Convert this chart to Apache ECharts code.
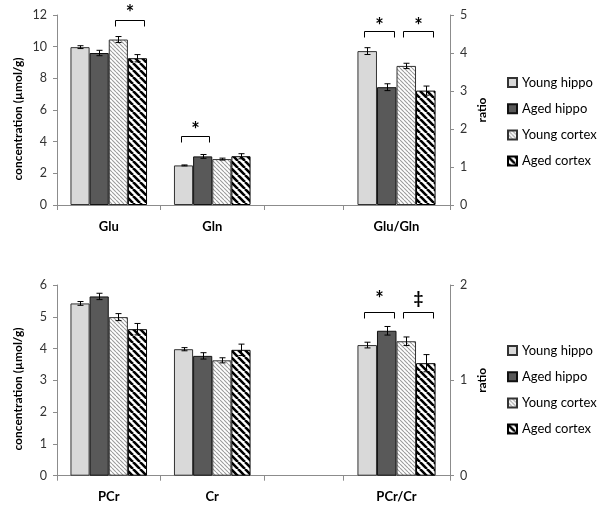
<!DOCTYPE html>
<html><head><meta charset="utf-8">
<script src="https://cdn.jsdelivr.net/npm/echarts@6/dist/echarts.min.js"></script>
<style>html,body{margin:0;padding:0;background:#fff}#c{width:600px;height:511px}</style>
</head><body><div id="c"></div>
<script>
// ---------- data ----------
const seriesNames = ['Young hippo', 'Aged hippo', 'Young cortex', 'Aged cortex'];

// top panel: concentrations (µmol/g)
const topCategories = ['Glu', 'Gln'];
const topYoungHippo = [9.97, 2.50];
const topAgedHippo = [9.60, 3.07];
const topYoungCortex = [10.45, 2.90];
const topAgedCortex = [9.27, 3.08];
const topYoungHippoErr = [0.09, 0.03];
const topAgedHippoErr = [0.17, 0.12];
const topYoungCortexErr = [0.19, 0.06];
const topAgedCortexErr = [0.23, 0.16];
// top panel: ratio
const topRatioCategory = ['Glu/Gln'];
const topRatioValues = [4.05, 3.10, 3.66, 3.01];
const topRatioErr = [0.09, 0.09, 0.07, 0.12];
const topConcTicks = [0, 2, 4, 6, 8, 10, 12];
const topRatioTicks = [0, 1, 2, 3, 4, 5];

// bottom panel: concentrations (µmol/g)
const bottomCategories = ['PCr', 'Cr'];
const bottomYoungHippo = [5.42, 3.98];
const bottomAgedHippo = [5.64, 3.77];
const bottomYoungCortex = [4.99, 3.63];
const bottomAgedCortex = [4.61, 3.96];
const bottomYoungHippoErr = [0.06, 0.05];
const bottomAgedHippoErr = [0.10, 0.10];
const bottomYoungCortexErr = [0.11, 0.08];
const bottomAgedCortexErr = [0.18, 0.18];
// bottom panel: ratio
const bottomRatioCategory = ['PCr/Cr'];
const bottomRatioValues = [1.37, 1.52, 1.41, 1.18];
const bottomRatioErr = [0.03, 0.045, 0.045, 0.09];
const bottomConcTicks = [0, 1, 2, 3, 4, 5, 6];
const bottomRatioTicks = [0, 1, 2];

// significance brackets: [category, fromSeries, toSeries, bracketLevel, markLevel, mark]
const topConcBrackets = [[0, 2, 3, 11.69, 12.32, '*'], [1, 0, 1, 4.36, 4.95, '*']];
const topRatioBrackets = [[0, 0, 1, 4.57, 4.81, '*'], [0, 2, 3, 4.57, 4.81, '*']];
const bottomRatioBrackets = [[0, 0, 1, 1.72, 1.89, '*'], [0, 2, 3, 1.72, 1.86, '\u2021']];

// ---------- styles ----------
const FONT = 'Lato, "Liberation Sans", sans-serif';
function stripe(size, lw, color) {
  const c = document.createElement('canvas');
  c.width = c.height = size;
  const g = c.getContext('2d');
  g.fillStyle = '#fff'; g.fillRect(0, 0, size, size);
  g.strokeStyle = color; g.lineWidth = lw; g.beginPath();
  for (let k = -1; k <= 1; k++) { g.moveTo(k * size, 0); g.lineTo(k * size + size, size); }
  g.stroke();
  return c;
}
const barStyles = [
  { color: '#d9d9d9', borderColor: '#333', borderWidth: 1 },
  { color: '#595959', borderColor: '#111', borderWidth: 1 },
  { color: { image: stripe(4, 1.1, '#9c9c9c'), repeat: 'repeat' }, borderColor: '#333', borderWidth: 1 },
  { color: { image: stripe(7, 2.6, '#000'), repeat: 'repeat' }, borderColor: '#000', borderWidth: 1 }
];
const GAP_A = 0.26, GAP_B = 0.27;
const AXIS_COLOR = '#8c8c8c';

// ---------- builders ----------
const series = [];
function addBars(xi, yi, valuesBySeries, gap) {
  seriesNames.forEach((n, s) => {
    series.push({
      type: 'bar', name: n, xAxisIndex: xi, yAxisIndex: yi, data: valuesBySeries[s],
      barGap: '0%', barCategoryGap: (gap * 100) + '%', itemStyle: barStyles[s],
      emphasis: { disabled: true }, silent: true
    });
  });
}
function errRender(gap) {
  return function (params, api) {
    const cat = api.value(0), s = api.value(1), v = api.value(2), e = api.value(3);
    const band = api.size([1, 0])[0];
    const bw = band * (1 - gap) / 4;
    const c = api.coord([cat, v]);
    const x = Math.round(c[0] + (s - 1.5) * bw) + 0.5;
    const yHi = api.coord([cat, v + e])[1], yLo = api.coord([cat, v - e])[1];
    const cap = 3, st = { stroke: '#000', lineWidth: 1 };
    return { type: 'group', children: [
      { type: 'line', shape: { x1: x, y1: yHi, x2: x, y2: yLo }, style: st },
      { type: 'line', shape: { x1: x - cap, y1: yHi, x2: x + cap, y2: yHi }, style: st },
      { type: 'line', shape: { x1: x - cap, y1: yLo, x2: x + cap, y2: yLo }, style: st }
    ] };
  };
}
function addErr(xi, yi, valuesBySeries, errsBySeries, gap) {
  const data = [];
  valuesBySeries.forEach((vals, s) => vals.forEach((v, c) => data.push([c, s, v, errsBySeries[s][c]])));
  series.push({ type: 'custom', xAxisIndex: xi, yAxisIndex: yi, data, encode: { x: 0, y: 2 },
    renderItem: errRender(gap), z: 5, silent: true });
}
function bracketRender(gap, list) {
  return function (params, api) {
    const b = list[params.dataIndex];
    const band = api.size([1, 0])[0], bw = band * (1 - gap) / 4;
    const c = api.coord([b[0], b[3]]);
    const xa = Math.round(c[0] + (b[1] - 1.5) * bw - 0.15 * bw) + 0.5;
    const xb = Math.round(c[0] + (b[2] - 1.5) * bw + 0.35 * bw) + 0.5;
    const y = Math.round(c[1]) + 0.5;
    const ty = c[1] - api.size([0, b[4] - b[3]])[1];
    const isStar = b[5] === '*';
    return { type: 'group', children: [
      { type: 'polyline', shape: { points: [[xa, y + 6], [xa, y], [xb, y], [xb, y + 6]] },
        style: { stroke: '#000', lineWidth: 1, fill: null } },
      { type: 'text', x: (xa + xb) / 2, y: ty + (isStar ? 4 : 0),
        style: { text: b[5], font: 'bold ' + (isStar ? 20 : 17) + 'px ' + FONT, fill: '#000', align: 'center', verticalAlign: 'middle' } }
    ] };
  };
}
function addBrackets(xi, yi, list, gap) {
  series.push({ type: 'custom', xAxisIndex: xi, yAxisIndex: yi,
    data: list.map(b => [b[0], b[1], b[2], b[3], b[4]]), encode: { x: 0, y: 3 },
    renderItem: bracketRender(gap, list), z: 6, silent: true, clip: false });
}

// ---------- layout ----------
const panels = [
  { top: 15, height: 190 },
  { top: 285, height: 190.7 }
];
const grid = [], xAxis = [], yAxis = [];
function catLabel() {
  return { show: true, margin: 15, fontFamily: FONT, fontWeight: 'bold', fontSize: 13, color: '#000' };
}
function valAxis(ticks, gi, pos, name) {
  const ax = {
    type: 'value', gridIndex: gi, position: pos,
    min: ticks[0], max: ticks[ticks.length - 1], interval: ticks[1] - ticks[0],
    axisLine: { show: true, lineStyle: { color: AXIS_COLOR } },
    axisTick: { show: true, length: 4, lineStyle: { color: AXIS_COLOR } },
    axisLabel: { margin: 10, fontFamily: FONT, fontSize: 12.5, color: '#333' },
    splitLine: { show: false }
  };
  if (name) {
    ax.name = name; ax.nameLocation = 'middle'; ax.nameGap = 26;
    ax.nameTextStyle = { fontFamily: FONT, fontWeight: 'bold', fontSize: 12, color: '#000' };
  }
  return ax;
}
function buildPanel(p, cats, ratioCat, concTicks, ratioTicks) {
  const g0 = grid.length;
  grid.push({ left: 57, top: p.top, width: 310.5, height: p.height });   // concentration bars
  grid.push({ left: 343, top: p.top, width: 107, height: p.height });    // ratio bars
  grid.push({ left: 57, top: p.top, width: 207, height: p.height });     // category tick marks
  xAxis.push({ type: 'category', gridIndex: g0, data: cats.concat(['']),
    axisLine: { show: true, lineStyle: { color: AXIS_COLOR } }, axisTick: { show: false }, axisLabel: catLabel() });
  xAxis.push({ type: 'category', gridIndex: g0 + 1, data: ratioCat,
    axisLine: { show: true, lineStyle: { color: AXIS_COLOR } },
    axisTick: { show: true, length: 5, lineStyle: { color: AXIS_COLOR } }, axisLabel: catLabel() });
  xAxis.push({ type: 'category', gridIndex: g0 + 2, data: cats,
    axisLine: { show: false }, axisTick: { show: true, length: 5, lineStyle: { color: AXIS_COLOR } },
    axisLabel: { show: false } });
  yAxis.push(valAxis(concTicks, g0, 'left'));
  yAxis.push(valAxis(ratioTicks, g0 + 1, 'right', 'ratio'));
  yAxis.push({ type: 'value', gridIndex: g0 + 2, show: false, min: 0, max: 1 });
  return g0;
}

const t = buildPanel(panels[0], topCategories, topRatioCategory, topConcTicks, topRatioTicks);
const topConc = [topYoungHippo, topAgedHippo, topYoungCortex, topAgedCortex];
const topConcErr = [topYoungHippoErr, topAgedHippoErr, topYoungCortexErr, topAgedCortexErr];
addBars(t, t, topConc, GAP_A);
addBars(t + 1, t + 1, topRatioValues.map(v => [v]), GAP_B);
addErr(t, t, topConc, topConcErr, GAP_A);
addErr(t + 1, t + 1, topRatioValues.map(v => [v]), topRatioErr.map(e => [e]), GAP_B);
addBrackets(t, t, topConcBrackets, GAP_A);
addBrackets(t + 1, t + 1, topRatioBrackets, GAP_B);

const b = buildPanel(panels[1], bottomCategories, bottomRatioCategory, bottomConcTicks, bottomRatioTicks);
const botConc = [bottomYoungHippo, bottomAgedHippo, bottomYoungCortex, bottomAgedCortex];
const botConcErr = [bottomYoungHippoErr, bottomAgedHippoErr, bottomYoungCortexErr, bottomAgedCortexErr];
addBars(b, b, botConc, GAP_A);
addBars(b + 1, b + 1, bottomRatioValues.map(v => [v]), GAP_B);
addErr(b, b, botConc, botConcErr, GAP_A);
addErr(b + 1, b + 1, bottomRatioValues.map(v => [v]), bottomRatioErr.map(e => [e]), GAP_B);
addBrackets(b + 1, b + 1, bottomRatioBrackets, GAP_B);

function legendAt(top) {
  return { data: seriesNames, orient: 'vertical', left: 502, top: top, icon: 'rect',
    itemWidth: 9, itemHeight: 9, itemGap: 13.2, selectedMode: false,
    textStyle: { fontFamily: FONT, fontSize: 13, color: '#000' } };
}

const chart = echarts.init(document.getElementById('c'), null, { renderer: 'canvas' });
chart.setOption({
  animation: false,
  backgroundColor: '#fff',
  grid, xAxis, yAxis, series,
  legend: [legendAt(71), legendAt(339)],
  graphic: [
    { type: 'text', x: 18, y: 119, rotation: Math.PI / 2,
      style: { text: 'concentration (\u00b5mol/g)', font: 'bold 12px ' + FONT, fill: '#000', align: 'center', verticalAlign: 'middle' } },
    { type: 'text', x: 18, y: 389, rotation: Math.PI / 2,
      style: { text: 'concentration (\u00b5mol/g)', font: 'bold 12px ' + FONT, fill: '#000', align: 'center', verticalAlign: 'middle' } }
  ]
});
</script></body></html>
